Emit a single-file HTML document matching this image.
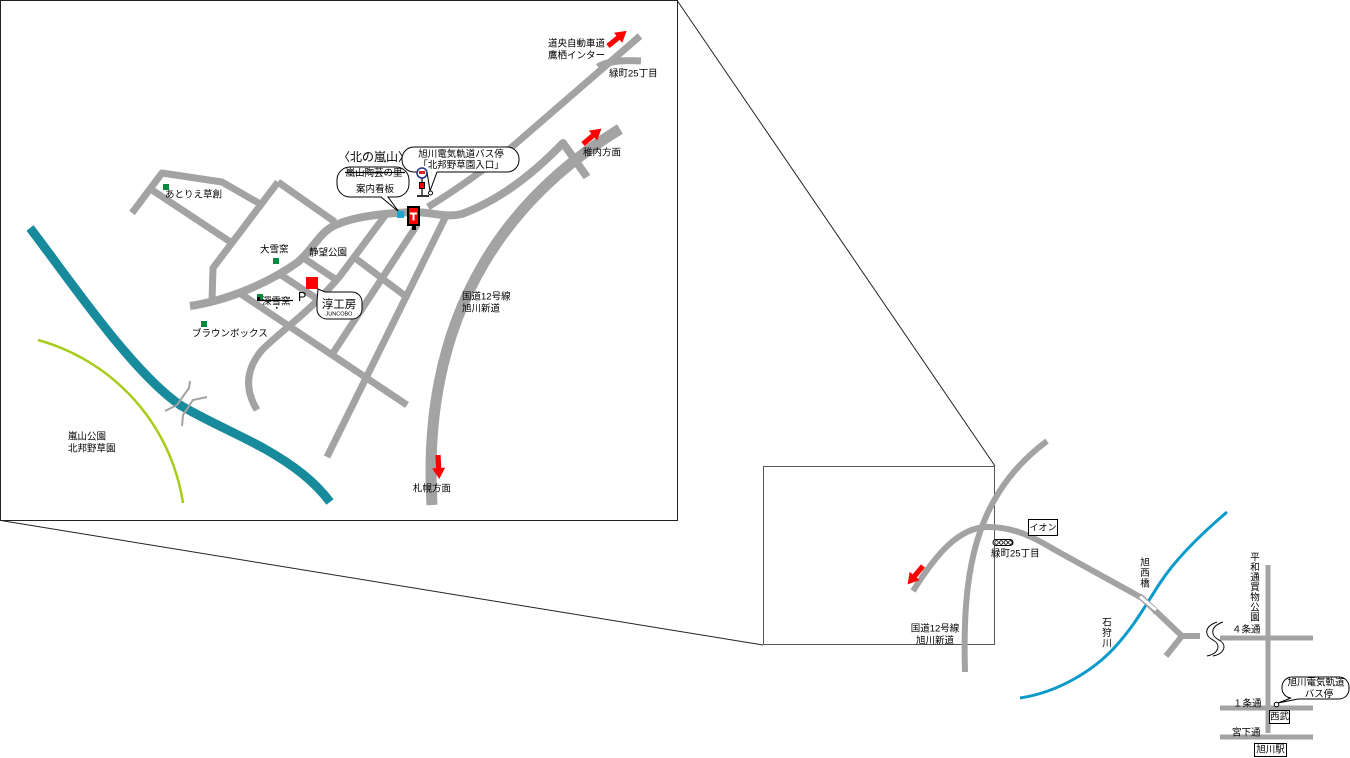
<!DOCTYPE html>
<html><head><meta charset="utf-8">
<style>
html,body{margin:0;padding:0;background:#fff;}
svg{display:block;}
text{font-family:"Liberation Sans","Noto Sans CJK JP",sans-serif;font-size:9.5px;fill:#000;dominant-baseline:central;}
.r{fill:none;stroke:#a3a3a3;stroke-linecap:butt;stroke-linejoin:round;}
.m{text-anchor:middle;}
</style></head><body>
<svg width="1350" height="758" viewBox="0 0 1350 758">
<rect x="0" y="0" width="1350" height="758" fill="#fff"/>

<!-- inset frame and connectors -->
<rect x="0.5" y="0.5" width="677" height="520" fill="none" stroke="#222" stroke-width="1"/>
<line x1="677.5" y1="1" x2="995" y2="466" stroke="#222" stroke-width="1"/>
<line x1="1" y1="520.5" x2="763" y2="645" stroke="#222" stroke-width="1"/>
<rect x="763.5" y="466.5" width="231" height="178" fill="none" stroke="#555" stroke-width="1"/>

<!-- ===== INSET ===== -->
<!-- rivers -->
<path d="M38,340 C110,360 170,420 183,503" fill="none" stroke="#a8cc1c" stroke-width="2.5"/>
<path d="M30,228 C70,280 130,370 180,405 C205,420 240,435 265,449 C295,466 315,482 330,502" fill="none" stroke="#178a9c" stroke-width="9"/>
<!-- bridge brackets -->
<polyline points="190,381 189,388 177,405 165,411" fill="none" stroke="#a3a3a3" stroke-width="2"/>
<polyline points="207,397 193,400 183,415 182,426" fill="none" stroke="#a3a3a3" stroke-width="2"/>

<!-- roads -->
<path class="r" stroke-width="8" d="M190,306 C230,300 270,282 298,262 C312,250 318,236 330,228 C345,219 370,214 413,212 C432,212 445,218 462,214 C500,200 535,172 563,143 L587,177"/>
<path class="r" stroke-width="7" d="M640,36 L520,140 Q480,175 428,207"/>
<path class="r" stroke-width="7" d="M598,67 Q610,59 641,61"/>
<path class="r" stroke-width="11" d="M620,129 C520,190 420,300 432,505"/>
<path class="r" stroke-width="7" d="M445,218 L327,457"/>
<path class="r" stroke-width="7" d="M417,225 L333,353"/>
<path class="r" stroke-width="7" d="M387,213 L340,276 C310,312 282,330 262,350 C245,370 245,390 257,410"/>
<path class="r" stroke-width="7" d="M238,292 L407,405"/>
<path class="r" stroke-width="7" d="M278,273 L322,302"/>
<path class="r" stroke-width="7" d="M302,257 L338,281"/>
<path class="r" stroke-width="7" d="M355,258 L408,298"/>
<path class="r" stroke-width="7" d="M132,213 L162,173 L222,182 L262,205"/>
<path class="r" stroke-width="7" d="M152,190 L232,243"/>
<path class="r" stroke-width="7" d="M278,182 L213,268 L212,302"/>
<path class="r" stroke-width="7" d="M278,182 L335,222"/>

<!-- red arrows -->
<polygon transform="translate(608,46) rotate(-39)" points="0,-2.6 13,-2.6 13,-6.5 24,0 13,6.5 13,2.6 0,2.6" fill="#f00"/>
<polygon transform="translate(583,144) rotate(-40)" points="0,-2.6 13,-2.6 13,-6.5 24,0 13,6.5 13,2.6 0,2.6" fill="#f00"/>
<polygon transform="translate(438,455) rotate(87)" points="0,-2.6 13,-2.6 13,-6.5 24,0 13,6.5 13,2.6 0,2.6" fill="#f00"/>

<!-- labels top right -->
<text x="548" y="44">道央自動車道</text>
<text x="548" y="56">鷹栖インター</text>
<text x="609" y="74">緑町25丁目</text>
<text x="583" y="153">稚内方面</text>
<text x="462" y="297">国道12号線</text>
<text x="462" y="309">旭川新道</text>
<text x="413" y="489">札幌方面</text>
<text x="68" y="437">嵐山公園</text>
<text x="68" y="449">北邦野草園</text>

<!-- points -->
<rect x="163" y="184" width="6" height="6" fill="#0a8a3c"/>
<text x="165" y="195">あとりえ草創</text>
<rect x="273" y="258" width="6" height="6" fill="#0a8a3c"/>
<text x="260" y="250">大雪窯</text>
<text x="309" y="253">静望公園</text>
<rect x="257" y="294" width="6" height="6" fill="#0a8a3c"/>
<rect x="257" y="297" width="3" height="3" fill="#000"/>
<text x="262" y="302">深雪窯</text>
<line x1="257" y1="300.5" x2="293" y2="300.5" stroke="#000" stroke-width="1.2"/>
<rect x="276" y="307" width="1.5" height="1.5" fill="#000"/>
<text x="298" y="297" style="font-size:12.5px">P</text>
<rect x="201" y="321" width="6" height="6" fill="#0a8a3c"/>
<text x="192" y="334">ブラウンボックス</text>

<rect x="306" y="277" width="12" height="12" fill="#f00"/>
<path d="M325,292 H352 A10,10 0 0 1 362,302 V309 A10,10 0 0 1 352,319 H327 A10,10 0 0 1 317,309 V301 L318,289 Z" fill="#fff" stroke="#000" stroke-width="1"/>
<text class="m" x="339" y="305" style="font-size:11.5px">淳工房</text>
<text class="m" x="339" y="314.5" style="font-size:5.5px">JUNCOBO</text>

<!-- center icons -->
<text x="338" y="157" style="font-size:12px">〈北の嵐山〉</text>
<path d="M414,147 H507 A12,12 0 0 1 519,159 V160 A12,12 0 0 1 507,172 H437 L430,191 L427,172 H414 A12,12 0 0 1 402,160 V159 A12,12 0 0 1 414,147 Z" fill="#fff" stroke="#000" stroke-width="1"/>
<text class="m" x="461" y="154.5">旭川電気軌道バス停</text>
<text class="m" x="461" y="165.5">「北邦野草園入口」</text>

<path d="M350,167 H396 A13,13 0 0 1 409,180 V184 A13,13 0 0 1 396,197 H388 L399,212 L381,197 H350 A13,13 0 0 1 337,184 V180 A13,13 0 0 1 350,167 Z" fill="#fff" stroke="#000" stroke-width="1"/>
<text class="m" x="374" y="173.5">嵐山陶芸の里</text>
<line x1="345" y1="172.5" x2="405" y2="172.5" stroke="#000" stroke-width="1.2"/>
<text class="m" x="375" y="189.5">案内看板</text>

<!-- bus stop sign -->
<line x1="422" y1="178" x2="422" y2="195" stroke="#333" stroke-width="1.5"/>
<circle cx="422" cy="173" r="5" fill="#fff" stroke="#223377" stroke-width="1.5"/>
<rect x="419" y="171" width="6" height="3" fill="#d22"/>
<rect x="419.5" y="182.5" width="5" height="6" fill="#f00" stroke="#000" stroke-width="1"/>
<line x1="417" y1="196" x2="429" y2="196" stroke="#333" stroke-width="2"/>
<circle cx="430.5" cy="193" r="2" fill="#fff" stroke="#000" stroke-width="1"/>

<!-- cyan square & postbox -->
<rect x="397" y="211" width="7" height="7" fill="#1ea5cf"/>
<rect x="412" y="224" width="4" height="6" fill="#000"/>
<rect x="408" y="207" width="11" height="18" fill="#f00" stroke="#000" stroke-width="2"/>
<rect x="410" y="212.5" width="7" height="2" fill="#fff"/>
<rect x="412.5" y="212.5" width="2" height="8" fill="#fff"/>

<!-- ===== RIGHT MAP ===== -->
<path d="M1227,512 C1200,535 1175,560 1160,583 S1135,625 1115,647 S1060,692 1020,698" fill="none" stroke="#0a9acb" stroke-width="3"/>
<path class="r" stroke-width="6" d="M1047,441 C975,495 962,570 965,672"/>
<path class="r" stroke-width="6" d="M913,591 C935,556 958,527 988,527 C1015,527 1035,538 1055,550 L1142,598 L1182,636 L1200,636"/>
<path class="r" stroke-width="6" d="M1182,636 L1166,656"/>
<!-- bridge -->
<line x1="1140" y1="596.5" x2="1156" y2="610" stroke="#fff" stroke-width="3"/>
<polyline points="1137,594 1140,596 1142,594" fill="none" stroke="#a3a3a3" stroke-width="1"/>
<polyline points="1153,614 1156,611 1159,612" fill="none" stroke="#a3a3a3" stroke-width="1"/>

<path class="r" stroke-width="5" d="M1220,638 L1313,638"/>
<path class="r" stroke-width="5" d="M1268,565 L1268,733"/>
<path class="r" stroke-width="5" d="M1220,708 L1313,708"/>
<path class="r" stroke-width="5" d="M1220,737 L1313,737"/>
<!-- squiggles -->
<path d="M1217,622 C1203,627 1205,636 1213,640 C1222,645 1218,654 1207,656" fill="none" stroke="#000" stroke-width="1"/>
<path d="M1223,622 C1209,627 1211,636 1219,640 C1228,645 1224,654 1213,656" fill="none" stroke="#000" stroke-width="1"/>

<polygon transform="translate(923,566) rotate(130)" points="0,-2.6 13,-2.6 13,-6.5 24,0 13,6.5 13,2.6 0,2.6" fill="#f00"/>

<rect x="1028.5" y="519.5" width="29" height="16" fill="#fff" stroke="#000" stroke-width="1"/>
<text class="m" x="1043" y="527.5" style="font-size:9px">イオン</text>
<rect x="993" y="539.5" width="20" height="6" rx="3" fill="#fff" stroke="#000" stroke-width="1"/>
<circle cx="996.5" cy="542.5" r="1.8" fill="none" stroke="#000" stroke-width="0.8"/>
<circle cx="1001.2" cy="542.5" r="1.8" fill="none" stroke="#000" stroke-width="0.8"/>
<circle cx="1005.8" cy="542.5" r="1.8" fill="none" stroke="#000" stroke-width="0.8"/>
<circle cx="1010.4" cy="542.5" r="1.8" fill="none" stroke="#000" stroke-width="0.8"/>
<text x="991" y="554">緑町25丁目</text>

<text class="m" x="1145" y="563">旭</text>
<text class="m" x="1145" y="573.5">西</text>
<text class="m" x="1145" y="584">橋</text>
<text class="m" x="1107" y="623">石</text>
<text class="m" x="1107" y="633.5">狩</text>
<text class="m" x="1107" y="644">川</text>

<text class="m" x="935" y="629">国道12号線</text>
<text class="m" x="935" y="641">旭川新道</text>

<text class="m" x="1255" y="558">平</text>
<text class="m" x="1255" y="568">和</text>
<text class="m" x="1255" y="578">通</text>
<text class="m" x="1255" y="588">買</text>
<text class="m" x="1255" y="598">物</text>
<text class="m" x="1255" y="608">公</text>
<text class="m" x="1255" y="618">園</text>

<text x="1232" y="630">４条通</text>
<text x="1233" y="704">１条通</text>
<text x="1232" y="733">宮下通</text>

<path d="M1292,677 H1339 A10,10 0 0 1 1349,687 V689 A10,10 0 0 1 1339,699 H1298 L1278,703 L1291,698 A10,10 0 0 1 1282,689 V687 A10,10 0 0 1 1292,677 Z" fill="#fff" stroke="#000" stroke-width="1"/>
<text class="m" x="1316" y="683">旭川電気軌道</text>
<text class="m" x="1319" y="694.5">バス停</text>
<circle cx="1276.5" cy="704.5" r="2.3" fill="#fff" stroke="#000" stroke-width="1"/>

<rect x="1269.5" y="710.5" width="20" height="13" fill="#fff" stroke="#000" stroke-width="1"/>
<text class="m" x="1279.5" y="717">西武</text>
<rect x="1254.5" y="743.5" width="32" height="13" fill="#fff" stroke="#000" stroke-width="1"/>
<text class="m" x="1270.5" y="750">旭川駅</text>
</svg>
</body></html>
